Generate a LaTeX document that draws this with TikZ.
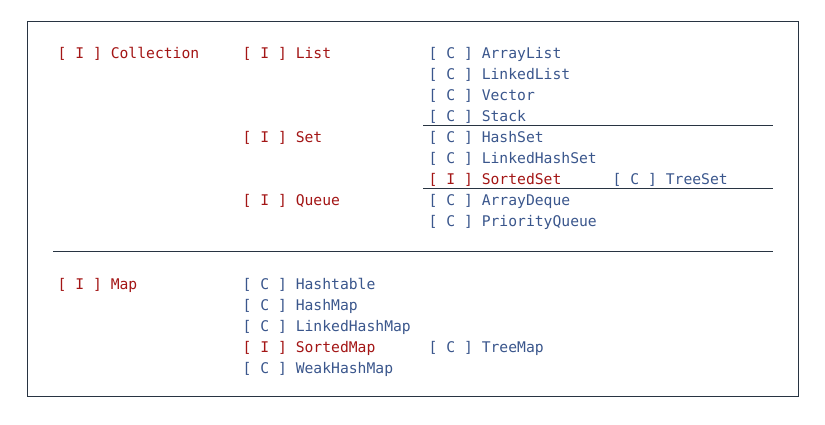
\documentclass[tikz,border=0pt]{standalone}
\usepackage{fontspec}
\newfontfamily\codefont{DejaVu Sans Mono}
\definecolor{ired}{RGB}{163,21,21}
\definecolor{cblue}{RGB}{58,86,140}
\definecolor{rulec}{RGB}{40,52,66}
\begin{document}
\begin{tikzpicture}[x=1pt,y=-1pt,
  entry/.style={inner sep=0pt,anchor=base west,xshift=-1.5pt,font=\codefont\fontsize{14.7}{21}\selectfont},
  iface/.style={entry,text=ired},
  cls/.style={entry,text=cblue},
  sep/.style={draw=rulec,line width=1pt}]
\useasboundingbox (0,0) rectangle (825,425);
\draw[rulec,line width=1pt] (27.5,21.5) rectangle (798.5,396.5);
% Collection section
\node[iface] (coll) at (59,58.3) {[ I ] Collection};
\node[iface] (list) at (244,58.3) {[ I ] List};
\node[cls] (arraylist) at (430,58.3) {[ C ] ArrayList};
\node[cls] (linkedlist) at (430,79.3) {[ C ] LinkedList};
\node[cls] (vector) at (430,100.3) {[ C ] Vector};
\node[cls] (stack) at (430,121.3) {[ C ] Stack};
\node[iface] (set) at (244,142.3) {[ I ] Set};
\node[cls] (hashset) at (430,142.3) {[ C ] HashSet};
\node[cls] (linkedhashset) at (430,163.3) {[ C ] LinkedHashSet};
\node[iface] (sortedset) at (430,184.3) {[ I ] SortedSet};
\node[cls] (treeset) at (614,184.3) {[ C ] TreeSet};
\node[iface] (queue) at (244,205.3) {[ I ] Queue};
\node[cls] (arraydeque) at (430,205.3) {[ C ] ArrayDeque};
\node[cls] (priorityqueue) at (430,226.3) {[ C ] PriorityQueue};
% separators
\draw[sep] (423,125.5) -- (773,125.5);
\draw[sep] (423,188.5) -- (773,188.5);
\draw[sep] (53,251.5) -- (773,251.5);
% Map section
\node[iface] (map) at (59,289.3) {[ I ] Map};
\node[cls] (hashtable) at (244,289.3) {[ C ] Hashtable};
\node[cls] (hashmap) at (244,310.3) {[ C ] HashMap};
\node[cls] (linkedhashmap) at (244,331.3) {[ C ] LinkedHashMap};
\node[iface] (sortedmap) at (244,352.3) {[ I ] SortedMap};
\node[cls] (treemap) at (430,352.3) {[ C ] TreeMap};
\node[cls] (weakhashmap) at (244,373.3) {[ C ] WeakHashMap};
\end{tikzpicture}
\end{document}
